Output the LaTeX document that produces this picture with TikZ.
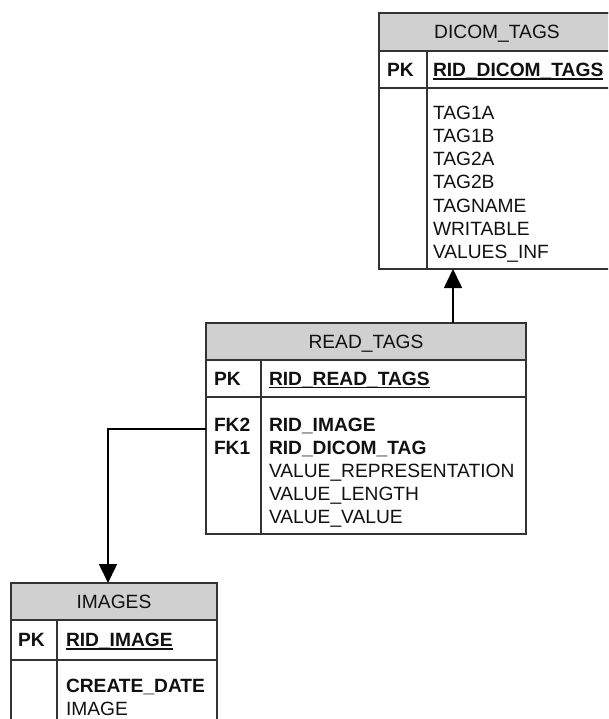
\documentclass[tikz,border=0pt]{standalone}
\usepackage{fontspec}
\setmainfont{Liberation Sans}
\usetikzlibrary{arrows.meta}
\definecolor{hdrgray}{HTML}{D0D0D0}
\definecolor{edge}{HTML}{333333}
\definecolor{ink}{HTML}{111111}
\begin{document}
\begin{tikzpicture}[x=1pt,y=-1pt,
  every node/.style={inner sep=0pt, outer sep=0pt, text=ink,
    font=\fontsize{19.2}{22}\selectfont},
  tbl/.style={draw=edge, line width=1.3pt, rectangle, anchor=north west},
  hdr/.style={tbl, fill=hdrgray},
  rule/.style={draw=edge, line width=1.3pt},
  ttl/.style={anchor=base},
  fld/.style={anchor=base west},
  key/.style={anchor=base west, font=\fontsize{19.2}{22}\selectfont\bfseries},
  uline/.style={draw=ink, line width=1.4pt},
  link/.style={draw=black, line width=1.6pt, -{Triangle[length=19pt,width=18pt]}}]

\useasboundingbox (0,0) rectangle (608,719);
\clip (0,0) rectangle (608,719);

% ---------- DICOM_TAGS ----------
\node[tbl, minimum width=236pt, minimum height=256pt] (dt) at (379,13) {};
\node[hdr, minimum width=236pt, minimum height=38pt] (dth) at (379,13) {};
\draw[rule] (dt.west |- 0,88) -- (dt.east |- 0,88);
\draw[rule] (427,51) -- (427,51 |- dt.south);
\node[ttl] (dtt) at (497,38.5) {DICOM\_TAGS};
\node[key] (dtpk) at (387,76.5) {PK};
\node[key] (dtid) at (433,76.5) {RID\_DICOM\_TAGS};
\draw[uline] ([yshift=-2.5pt]dtid.base west) -- ([yshift=-2.5pt]dtid.base east);
\node[fld] (dtf1) at (433,120) {TAG1A};
\node[fld] (dtf2) at (433,143) {TAG1B};
\node[fld] (dtf3) at (433,166) {TAG2A};
\node[fld] (dtf4) at (433,189) {TAG2B};
\node[fld] (dtf5) at (433,212) {TAGNAME};
\node[fld] (dtf6) at (433,235) {WRITABLE};
\node[fld] (dtf7) at (433,258) {VALUES\_INF};

% ---------- READ_TAGS ----------
\node[tbl, minimum width=320pt, minimum height=211pt] (rt) at (206,323) {};
\node[hdr, minimum width=320pt, minimum height=37pt] (rth) at (206,323) {};
\draw[rule] (rt.west |- 0,397) -- (rt.east |- 0,397);
\draw[rule] (261,360) -- (261,360 |- rt.south);
\node[ttl] (rtt) at (366,348) {READ\_TAGS};
\node[key] (rtpk) at (214,385) {PK};
\node[key] (rtid) at (269,385) {RID\_READ\_TAGS};
\draw[uline] ([yshift=-2.5pt]rtid.base west) -- ([yshift=-2.5pt]rtid.base east);
\node[key] (rtk2) at (214,431) {FK2};
\node[key] (rtf1) at (269,431) {RID\_IMAGE};
\node[key] (rtk1) at (214,454) {FK1};
\node[key] (rtf2) at (269,454) {RID\_DICOM\_TAG};
\node[fld] (rtf3) at (269,477) {VALUE\_REPRESENTATION};
\node[fld] (rtf4) at (269,500) {VALUE\_LENGTH};
\node[fld] (rtf5) at (269,523) {VALUE\_VALUE};

% ---------- IMAGES ----------
\node[tbl, minimum width=206pt, minimum height=170pt] (im) at (11,583) {};
\node[hdr, minimum width=206pt, minimum height=37pt] (imh) at (11,583) {};
\draw[rule] (im.west |- 0,660) -- (im.east |- 0,660);
\draw[rule] (57,620) -- (57,620 |- im.south);
\node[ttl] (imt) at (114,608) {IMAGES};
\node[key] (impk) at (18,646.5) {PK};
\node[key] (imid) at (66,646.5) {RID\_IMAGE};
\draw[uline] ([yshift=-2.5pt]imid.base west) -- ([yshift=-2.5pt]imid.base east);
\node[key] (imf1) at (66,692) {CREATE\_DATE};
\node[fld] (imf2) at (66,715) {IMAGE};

% ---------- relations ----------
\coordinate (upx) at (453,0);
\draw[link] (rt.north -| upx) -- (dt.south -| upx);
\coordinate (bend) at (108,429);
\draw[link] (rt.west |- bend) -- (bend) -- (im.north -| bend);
\end{tikzpicture}
\end{document}
